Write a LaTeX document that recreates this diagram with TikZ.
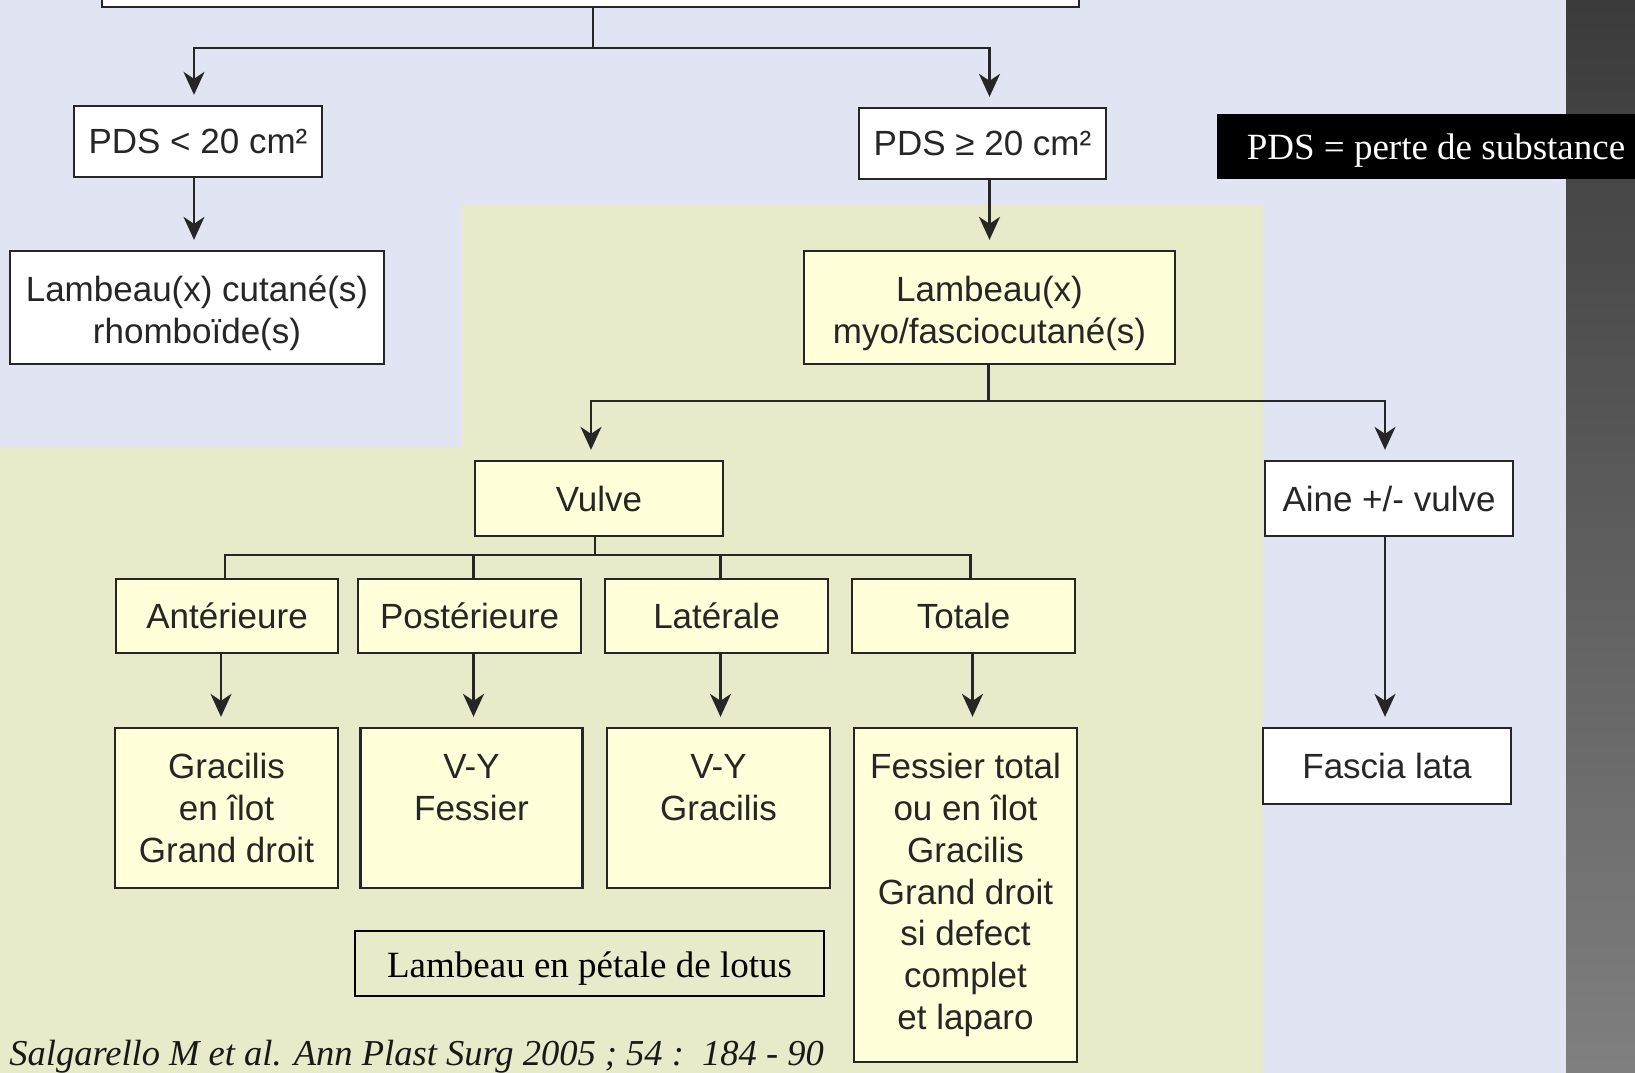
\documentclass[tikz,border=0pt]{standalone}
\usepackage{fontspec}
\setmainfont{Liberation Serif}
\setsansfont{Liberation Sans}
\usetikzlibrary{arrows.meta}
\definecolor{bglav}{HTML}{E1E4F3}
\definecolor{bgyel}{HTML}{E8EAC9}
\definecolor{boxyel}{HTML}{FFFFDA}
\definecolor{ink}{HTML}{262626}
\begin{document}
\begin{tikzpicture}[x=1pt,y=-1pt,
  box/.style={draw=ink, line width=2.3pt, fill=white, inner sep=0pt, align=center,
    font=\sffamily\fontsize{35}{41.7}\selectfont, text=ink},
  ybox/.style={box, fill=boxyel},
  conn/.style={draw=ink, line width=2.5pt},
  arr/.style={conn, -{Stealth[length=23pt,width=21pt,inset=7pt]}, shorten >=10pt},
  serifbig/.style={font=\rmfamily\fontsize{37}{44}\selectfont, inner sep=0pt}
]
\useasboundingbox (0,0) rectangle (1635,1073);
% backgrounds
\fill[bglav] (0,0) rectangle (1635,1073);
\fill[bgyel] (462,205) -- (1263,205) -- (1263,1073) -- (0,1073) -- (0,447) -- (462,447) -- cycle;
\shade[top color=black!77, bottom color=black!50] (1566,0) rectangle (1635,1073);

% nodes
\node[box, minimum width=977, minimum height=40] (top) at (590.5,-13) {};
\node[box, minimum width=248, minimum height=71] (pds1) at (198,141.5) {PDS < 20 cm²};
\node[box, minimum width=247, minimum height=71] (pds2) at (982.5,143.5) {PDS ≥ 20 cm²};
\node[box, minimum width=374, minimum height=113] (lamb1) at (197,307.5) {\rule{0pt}{37.5pt}Lambeau(x) cutané(s)\\rhomboïde(s)};
\node[ybox, minimum width=371, minimum height=113] (myo) at (989.5,307.5) {\rule{0pt}{37.5pt}Lambeau(x)\\myo/fasciocutané(s)};
\node[ybox, minimum width=248, minimum height=75] (vulve) at (599,498.5) {Vulve};
\node[box, minimum width=248, minimum height=75] (aine) at (1389,498.5) {Aine +/- vulve};

\node[ybox, minimum width=222, minimum height=74] (ant) at (227,616) {Antérieure};
\node[ybox, minimum width=223, minimum height=74] (post) at (469.5,616) {Postérieure};
\node[ybox, minimum width=223, minimum height=74] (lat) at (716.5,616) {Latérale};
\node[ybox, minimum width=223, minimum height=74] (tot) at (963.5,616) {Totale};

\node[ybox, minimum width=223, minimum height=160] (gra) at (226.5,808) {Gracilis\\en îlot\\Grand droit};
\node[ybox, minimum width=222, minimum height=160] (vy1) at (471.5,808) {V-Y\\Fessier\\\mbox{}};
\node[ybox, minimum width=223, minimum height=160] (vy2) at (718.5,808) {V-Y\\Gracilis\\\mbox{}};
\node[ybox, minimum width=223, minimum height=334] (ft) at (965.5,895) {Fessier total\\ou en îlot\\Gracilis\\Grand droit\\si defect\\complet\\et laparo};
\node[box, minimum width=248, minimum height=76] (fascia) at (1387,766) {Fascia lata};

\node[fill=black, minimum width=418, minimum height=65, inner sep=0pt] (legbox) at (1426,146.5) {};
\node[serifbig, text=white] (legtext) at (1436,150.5) {PDS = perte de substance};

\node[draw=black, line width=1.6pt, minimum width=469, minimum height=65, inner sep=0pt] (lotus) at (589.5,963.5) {};
\node[serifbig] (lotustext) at (589.5,968.5) {Lambeau en pétale de lotus};
\node[serifbig, font=\rmfamily\itshape\fontsize{36.5}{44}\selectfont, anchor=base east, text=black!90] (cite) at (824,1065) {Salgarello M et al. Ann Plast Surg 2005 ; 54 :\ \ 184 - 90};

% connectors
\draw[conn] ([xshift=2.5pt]top.south) -- ++(0,40) coordinate (j1);
\draw[arr] (j1) -| ([xshift=-4pt]pds1.north);
\draw[arr] (j1) -| (myo.north |- pds2.north);
\draw[arr] ([xshift=-4pt]pds1.south) -- ([xshift=-4pt]pds1.south |- lamb1.north);
\draw[arr] (pds2.south -| myo.north) -- (myo.north);
\draw[conn] ([xshift=-1pt]myo.south) -- ++(0,36) coordinate (j2);
\draw[arr] (j2) -| ([xshift=-8pt]vulve.north);
\draw[arr] (j2) -| ([xshift=-4pt]aine.north);
\draw[conn] ([xshift=-4pt]vulve.south) -- ++(0,17.7) coordinate (j3);
\draw[conn] (j3) -| ([xshift=-2pt]ant.north);
\draw[conn] (j3) -| ([xshift=4pt]post.north);
\draw[conn] (j3) -| ([xshift=4pt]lat.north);
\draw[conn] (j3) -| ([xshift=7pt]tot.north);
\draw[arr] ([xshift=-6pt]ant.south) -- ([xshift=-6pt]ant.south |- gra.north);
\draw[arr] ([xshift=4pt]post.south) -- ([xshift=4pt]post.south |- vy1.north);
\draw[arr] ([xshift=4pt]lat.south) -- ([xshift=4pt]lat.south |- vy2.north);
\draw[arr] ([xshift=9pt]tot.south) -- ([xshift=9pt]tot.south |- ft.north);
\draw[arr] ([xshift=-4pt]aine.south) -- ([xshift=-4pt]aine.south |- fascia.north);
\end{tikzpicture}
\end{document}
